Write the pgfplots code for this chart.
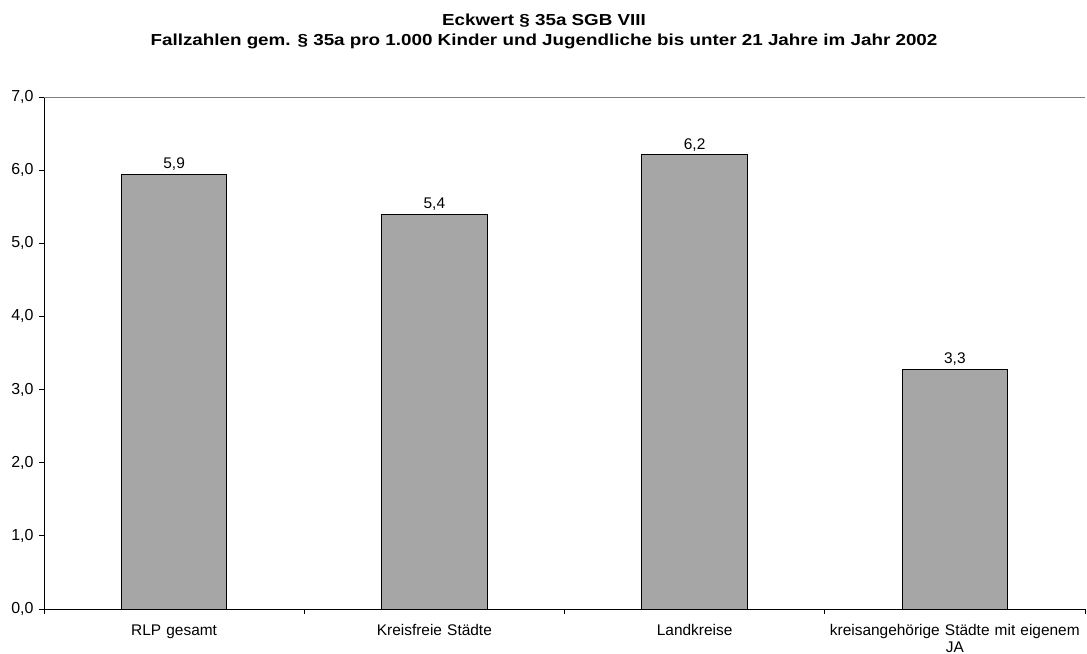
\documentclass[border=0pt]{standalone}
\usepackage{pgfplots}
\pgfplotsset{compat=1.18}
\usepackage{fontspec}
\setmainfont{Liberation Sans}
\definecolor{barfill}{RGB}{166,166,166}
\begin{document}
\begin{tikzpicture}[x=1bp,y=1bp]
\useasboundingbox (0,0) rectangle (1087,654);
\node[align=center,font=\fontsize{16}{19.5}\selectfont\bfseries] at (544,622.5) {\scalebox{1.18}[1]{Eckwert § 35a SGB VIII}\\\scalebox{1.18}[1]{Fallzahlen gem. § 35a pro 1.000 Kinder und Jugendliche bis unter 21 Jahre im Jahr 2002}};
\begin{axis}[
  at={(44bp,45bp)}, anchor=south west,
  scale only axis, width=1041bp, height=512bp,
  xmin=-0.5, xmax=3.5, ymin=0, ymax=7,
  axis x line*=bottom, axis y line*=left,
  x axis line style={-, black, line width=0.8bp}, y axis line style={-, black, line width=0.8bp},
  ytick={0,1,...,7},
  yticklabel style={font=\fontsize{16}{18}\selectfont, xshift=-2bp, /pgf/number format/.cd, fixed, fixed zerofill, precision=1, use comma, assume math mode=true},
  /pgf/number format/assume math mode=true,
  xtick={-0.5,0.5,1.5,2.5,3.5}, xticklabels={},
  extra x ticks={0,1,2,3},
  extra x tick labels={RLP gesamt, Kreisfreie Städte, Landkreise, {kreisangehörige Städte mit eigenem\\JA}},
  extra x tick style={major tick length=0pt, tick label style={text width=262bp, align=center, yshift=-12bp, font=\fontsize{15.5}{17}\selectfont}},
  tick align=outside, major tick length=5bp,
  tick style={black, line width=0.8bp},
  ybar, bar width=105.5bp,
  nodes near coords,
  nodes near coords style={font=\fontsize{15.5}{17}\selectfont, /pgf/number format/.cd, fixed, fixed zerofill, precision=1, use comma, assume math mode=true},
  clip=false,
]
\addplot[fill=barfill, draw=black, line width=0.9bp] coordinates {(0,5.94) (1,5.40) (2,6.21) (3,3.28)};
\draw[gray, line width=0.8bp] (rel axis cs:0,1) -- (rel axis cs:1,1);
\end{axis}
\end{tikzpicture}
\end{document}
